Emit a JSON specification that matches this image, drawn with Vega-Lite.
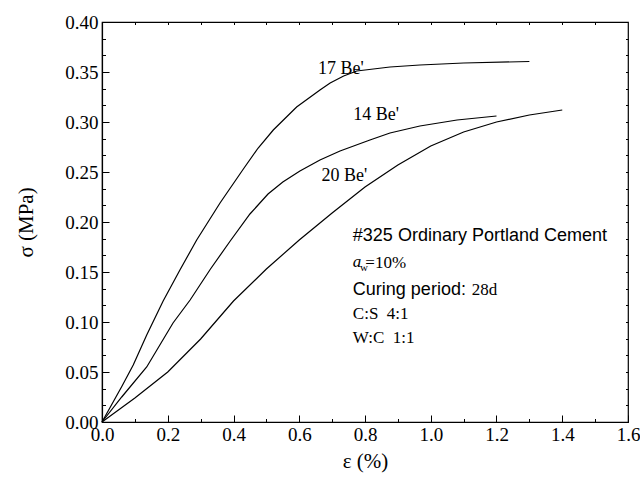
{
  "$schema": "https://vega.github.io/schema/vega-lite/v6.json",
  "width": 526,
  "height": 400,
  "autosize": "none",
  "padding": {"left": 102, "top": 22, "right": 12, "bottom": 55},
  "background": "white",
  "config": {
    "view": {"stroke": "black", "strokeWidth": 1.2},
    "axis": {"grid": false, "labelFlush": false, "domainColor": "black", "tickColor": "black", "labelColor": "black", "titleColor": "black", "labelFont": "Liberation Serif", "titleFont": "Liberation Serif", "labelFontSize": 19, "titleFontSize": 21, "titleFontWeight": "normal"}
  },
  "datasets": {
    "curves": [
      {"series": "17 Be'", "e": 0, "s": 0},
      {"series": "17 Be'", "e": 0.061, "s": 0.036},
      {"series": "17 Be'", "e": 0.095, "s": 0.057},
      {"series": "17 Be'", "e": 0.136, "s": 0.087},
      {"series": "17 Be'", "e": 0.186, "s": 0.121},
      {"series": "17 Be'", "e": 0.237, "s": 0.152},
      {"series": "17 Be'", "e": 0.288, "s": 0.182},
      {"series": "17 Be'", "e": 0.359, "s": 0.219},
      {"series": "17 Be'", "e": 0.43, "s": 0.253},
      {"series": "17 Be'", "e": 0.475, "s": 0.274},
      {"series": "17 Be'", "e": 0.521, "s": 0.292},
      {"series": "17 Be'", "e": 0.592, "s": 0.315},
      {"series": "17 Be'", "e": 0.663, "s": 0.332},
      {"series": "17 Be'", "e": 0.694, "s": 0.339},
      {"series": "17 Be'", "e": 0.735, "s": 0.346},
      {"series": "17 Be'", "e": 0.775, "s": 0.351},
      {"series": "17 Be'", "e": 0.876, "s": 0.355},
      {"series": "17 Be'", "e": 0.967, "s": 0.357},
      {"series": "17 Be'", "e": 1.1, "s": 0.359},
      {"series": "17 Be'", "e": 1.3, "s": 0.3605},
      {"series": "14 Be'", "e": 0, "s": 0},
      {"series": "14 Be'", "e": 0.06, "s": 0.025},
      {"series": "14 Be'", "e": 0.136, "s": 0.055},
      {"series": "14 Be'", "e": 0.216, "s": 0.099},
      {"series": "14 Be'", "e": 0.268, "s": 0.122},
      {"series": "14 Be'", "e": 0.33, "s": 0.153},
      {"series": "14 Be'", "e": 0.39, "s": 0.181},
      {"series": "14 Be'", "e": 0.45, "s": 0.208},
      {"series": "14 Be'", "e": 0.505, "s": 0.228},
      {"series": "14 Be'", "e": 0.55, "s": 0.240},
      {"series": "14 Be'", "e": 0.602, "s": 0.251},
      {"series": "14 Be'", "e": 0.663, "s": 0.262},
      {"series": "14 Be'", "e": 0.724, "s": 0.271},
      {"series": "14 Be'", "e": 0.815, "s": 0.282},
      {"series": "14 Be'", "e": 0.876, "s": 0.289},
      {"series": "14 Be'", "e": 0.967, "s": 0.296},
      {"series": "14 Be'", "e": 1.08, "s": 0.302},
      {"series": "14 Be'", "e": 1.2, "s": 0.306},
      {"series": "20 Be'", "e": 0, "s": 0},
      {"series": "20 Be'", "e": 0.1, "s": 0.024},
      {"series": "20 Be'", "e": 0.2, "s": 0.05},
      {"series": "20 Be'", "e": 0.3, "s": 0.083},
      {"series": "20 Be'", "e": 0.4, "s": 0.121},
      {"series": "20 Be'", "e": 0.5, "s": 0.153},
      {"series": "20 Be'", "e": 0.6, "s": 0.182},
      {"series": "20 Be'", "e": 0.7, "s": 0.209},
      {"series": "20 Be'", "e": 0.8, "s": 0.235},
      {"series": "20 Be'", "e": 0.9, "s": 0.257},
      {"series": "20 Be'", "e": 1.0, "s": 0.276},
      {"series": "20 Be'", "e": 1.1, "s": 0.29},
      {"series": "20 Be'", "e": 1.2, "s": 0.3},
      {"series": "20 Be'", "e": 1.3, "s": 0.307},
      {"series": "20 Be'", "e": 1.4, "s": 0.312}
    ],
    "serifLabels": [
      {"e": 0.657, "s": 0.353, "text": "17 Be'"},
      {"e": 0.764, "s": 0.307, "text": "14 Be'"},
      {"e": 0.668, "s": 0.246, "text": "20 Be'"}
    ],
    "sansNotes": [
      {"e": 0.763, "s": 0.186, "text": "#325 Ordinary Portland Cement"},
      {"e": 0.763, "s": 0.132, "text": "Curing period:"}
    ],
    "serifNotes": [
      {"e": 0.801, "s": 0.159, "text": "=10%"},
      {"e": 1.125, "s": 0.132, "text": "28d"},
      {"e": 0.763, "s": 0.108, "text": "C:S\u00a0\u00a04:1"},
      {"e": 0.763, "s": 0.084, "text": "W:C\u00a0\u00a01:1"}
    ],
    "italicNotes": [
      {"e": 0.763, "s": 0.16, "text": "a"}
    ],
    "subNotes": [
      {"e": 0.785, "s": 0.154, "text": "w"}
    ]
  },
  "resolve": {"axis": {"x": "independent", "y": "independent"}},
  "layer": [
    {
      "data": {"name": "curves"},
      "mark": {"type": "line", "color": "black", "strokeWidth": 1.2},
      "encoding": {
        "x": {"field": "e", "type": "quantitative", "scale": {"domain": [0, 1.6], "nice": false, "zero": false},
              "axis": {"orient": "bottom", "title": "ε (%)", "values": [0, 0.2, 0.4, 0.6, 0.8, 1.0, 1.2, 1.4, 1.6], "format": ".1f", "tickSize": -7, "labelPadding": 10, "titlePadding": 6, "domainWidth": 1.2}},
        "y": {"field": "s", "type": "quantitative", "scale": {"domain": [0, 0.4], "nice": false, "zero": false},
              "axis": {"orient": "left", "title": "σ (MPa)", "values": [0, 0.05, 0.1, 0.15, 0.2, 0.25, 0.3, 0.35, 0.4], "format": ".2f", "tickSize": -7, "labelPadding": 11, "titlePadding": 28, "domainWidth": 1.2}},
        "detail": {"field": "series", "type": "nominal"},
        "order": {"field": "e", "type": "quantitative"}
      }
    },
    {
      "data": {"name": "curves"},
      "mark": {"type": "point", "opacity": 0},
      "encoding": {
        "x": {"field": "e", "type": "quantitative",
              "axis": {"orient": "bottom", "title": null, "labels": false, "domain": false, "values": [0.1, 0.3, 0.5, 0.7, 0.9, 1.1, 1.3, 1.5], "tickSize": -3.5}},
        "y": {"field": "s", "type": "quantitative",
              "axis": {"orient": "left", "title": null, "labels": false, "domain": false, "values": [0.016667, 0.033333, 0.066667, 0.083333, 0.116667, 0.133333, 0.166667, 0.183333, 0.216667, 0.233333, 0.266667, 0.283333, 0.316667, 0.333333, 0.366667, 0.383333], "tickSize": -3.5}}
      }
    },
    {
      "data": {"name": "curves"},
      "mark": {"type": "point", "opacity": 0},
      "encoding": {
        "x": {"field": "e", "type": "quantitative",
              "axis": {"orient": "top", "title": null, "labels": false, "domain": false, "values": [0.1, 0.2, 0.3, 0.4, 0.5, 0.6, 0.7, 0.8, 0.9, 1.0, 1.1, 1.2, 1.3, 1.4, 1.5], "tickSize": -2.5}},
        "y": {"field": "s", "type": "quantitative",
              "axis": {"orient": "right", "title": null, "labels": false, "domain": false, "values": [0.016667, 0.033333, 0.05, 0.066667, 0.083333, 0.1, 0.116667, 0.133333, 0.15, 0.166667, 0.183333, 0.2, 0.216667, 0.233333, 0.25, 0.266667, 0.283333, 0.3, 0.316667, 0.333333, 0.35, 0.366667, 0.383333], "tickSize": -2.5}}
      }
    },
    {
      "data": {"name": "serifLabels"},
      "mark": {"type": "text", "align": "left", "baseline": "middle", "font": "Liberation Serif", "fontSize": 18, "color": "black"},
      "encoding": {
        "x": {"field": "e", "type": "quantitative", "axis": null},
        "y": {"field": "s", "type": "quantitative", "axis": null},
        "text": {"field": "text"}
      }
    },
    {
      "data": {"name": "sansNotes"},
      "mark": {"type": "text", "align": "left", "baseline": "middle", "font": "Liberation Sans", "fontSize": 18, "color": "black"},
      "encoding": {
        "x": {"field": "e", "type": "quantitative", "axis": null},
        "y": {"field": "s", "type": "quantitative", "axis": null},
        "text": {"field": "text"}
      }
    },
    {
      "data": {"name": "serifNotes"},
      "mark": {"type": "text", "align": "left", "baseline": "middle", "font": "Liberation Serif", "fontSize": 17, "color": "black"},
      "encoding": {
        "x": {"field": "e", "type": "quantitative", "axis": null},
        "y": {"field": "s", "type": "quantitative", "axis": null},
        "text": {"field": "text"}
      }
    },
    {
      "data": {"name": "italicNotes"},
      "mark": {"type": "text", "align": "left", "baseline": "middle", "font": "Liberation Serif", "fontStyle": "italic", "fontSize": 17, "color": "black"},
      "encoding": {
        "x": {"field": "e", "type": "quantitative", "axis": null},
        "y": {"field": "s", "type": "quantitative", "axis": null},
        "text": {"field": "text"}
      }
    },
    {
      "data": {"name": "subNotes"},
      "mark": {"type": "text", "align": "left", "baseline": "middle", "font": "Liberation Serif", "fontSize": 11, "color": "black"},
      "encoding": {
        "x": {"field": "e", "type": "quantitative", "axis": null},
        "y": {"field": "s", "type": "quantitative", "axis": null},
        "text": {"field": "text"}
      }
    }
  ]
}
